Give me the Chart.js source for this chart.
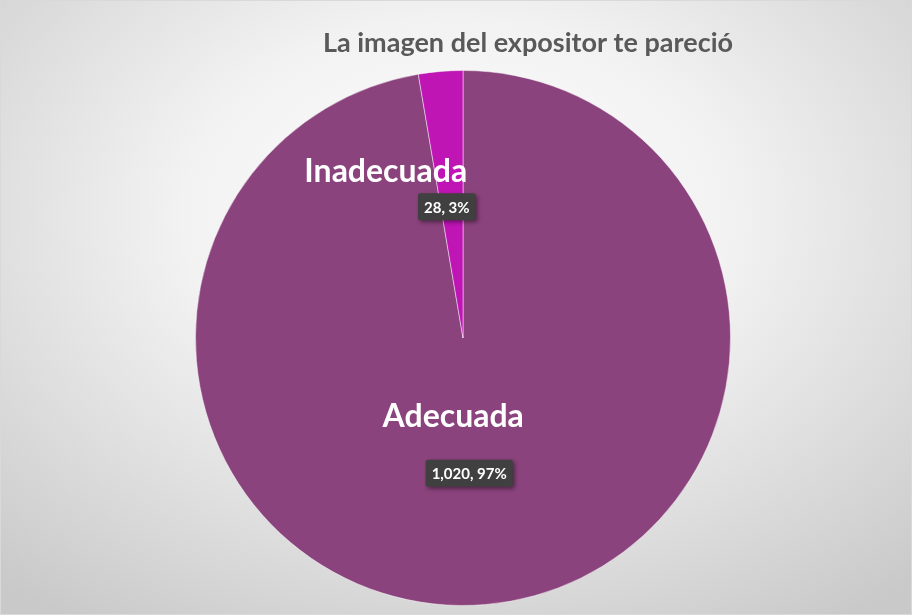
<!DOCTYPE html>
<html>
<head>
<meta charset="utf-8">
<script src="https://cdn.jsdelivr.net/npm/chart.js@4"></script>
<style>
  html, body { margin: 0; padding: 0; }
  body { width: 912px; height: 615px; overflow: hidden; }
  #wrap {
    position: relative; width: 910px; height: 613px;
    border: 1px solid #d9d9d9;
    background: radial-gradient(ellipse 75% 80% at 50% 35%, #ffffff 0%, #f2f2f2 40%, #c9c9c9 100%);
  }
</style>
</head>
<body>
<div id="wrap"><canvas id="myChart" width="910" height="613"></canvas></div>
<script>
// chart data
const title = 'La imagen del expositor te pareció'
const categories = ['Adecuada', 'Inadecuada']
const values = [1020, 28]
const percents = ['97%', '3%']
const colors = ['#8B437D', '#BF15B5']

// where Excel put the category names, relative to the value boxes
const nameOffsets = [[-16, -57], [-61, -35]]

const fontFamily = 'Lato, "Open Sans", sans-serif'

function fmt(v) {
    return v.toLocaleString('en-US')
}

function roundRect(ctx, x, y, w, h, r) {
    ctx.beginPath()
    ctx.moveTo(x + r, y)
    ctx.arcTo(x + w, y, x + w, y + h, r)
    ctx.arcTo(x + w, y + h, x, y + h, r)
    ctx.arcTo(x, y + h, x, y, r)
    ctx.arcTo(x, y, x + w, y, r)
    ctx.closePath()
}

// draws the title and the data labels
const labelPlugin = {
    id: 'labelPlugin',
    afterDraw(chart) {
        const ctx = chart.ctx
        ctx.save()
        ctx.textAlign = 'center'
        ctx.textBaseline = 'middle'

        ctx.fillStyle = '#595959'
        ctx.font = 'bold 27px ' + fontFamily
        ctx.fillText(title, 527, 42)

        const meta = chart.getDatasetMeta(0)
        meta.data.forEach((arc, i) => {
            const p = arc.getProps(['x', 'y', 'startAngle', 'endAngle', 'outerRadius'])
            const mid = (p.startAngle + p.endAngle) / 2
            const r = p.outerRadius * 0.5
            const bx = p.x + Math.cos(mid) * r - 5
            const by = p.y + Math.sin(mid) * r + 2

            // value box
            const text = fmt(values[i]) + ', ' + percents[i]
            ctx.font = 'bold 15px ' + fontFamily
            const w = ctx.measureText(text).width + 12
            const h = 27
            ctx.shadowColor = 'rgba(0,0,0,0.45)'
            ctx.shadowBlur = 4
            ctx.shadowOffsetX = 2
            ctx.shadowOffsetY = 2
            ctx.fillStyle = '#404040'
            roundRect(ctx, bx - w / 2, by - h / 2, w, h, 2)
            ctx.fill()
            ctx.shadowColor = 'transparent'
            ctx.fillStyle = '#ffffff'
            ctx.fillText(text, bx, by + 1)

            // category name
            ctx.font = 'bold 32px ' + fontFamily
            ctx.fillText(categories[i], bx + nameOffsets[i][0], by + nameOffsets[i][1])
        })
        ctx.restore()
    }
}

const data = {
    labels: categories,
    datasets: [{
        data: values,
        backgroundColor: colors,
        borderColor: 'rgba(255,255,255,0.45)',
        borderWidth: 1
    }]
}

const config = {
    type: 'pie',
    data: data,
    options: {
        responsive: false,
        animation: false,
        layout: { padding: { top: 69, bottom: 8, left: 20, right: 6 } },
        plugins: {
            legend: { display: false },
            tooltip: { enabled: false },
            title: { display: false }
        }
    },
    plugins: [labelPlugin]
}

new Chart(document.getElementById('myChart'), config)
</script>
</body>
</html>
